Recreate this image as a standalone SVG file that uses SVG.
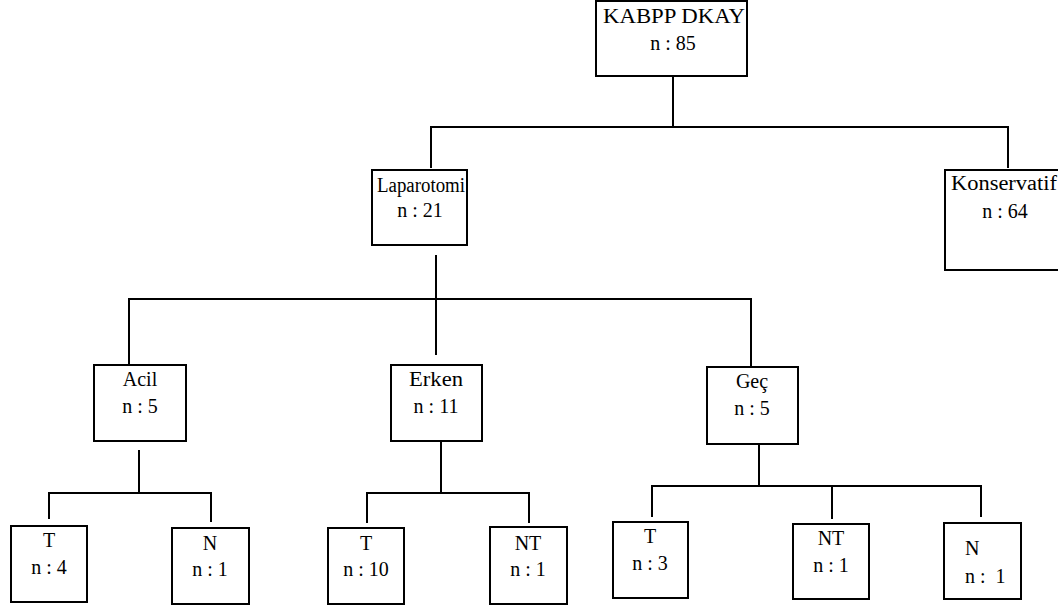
<svg xmlns="http://www.w3.org/2000/svg" width="1058" height="606" viewBox="0 0 1058 606">
<style>
.box{fill:#fff;stroke:#000;stroke-width:2}
.ln{fill:none;stroke:#000;stroke-width:2}
text{font-family:"Liberation Serif","Times New Roman",serif;font-size:20px;fill:#000;text-anchor:middle}
</style>
<rect width="1058" height="606" fill="#fff"/>
<g id="connectors">
<path class="ln" d="M673 76V127M431 168V127H1008V168"/>
<path class="ln" d="M436 255V355M129 365V299H751V367"/>
<path class="ln" d="M139 450V493M49 519V493H211V522"/>
<path class="ln" d="M441 441V493M367 523V493H529V523"/>
<path class="ln" d="M759 440V486M652 517V486H981V517M832 486V519"/>
</g>
<g id="n-root"><rect class="box" x="596" y="1" width="151" height="75"/><text x="674" y="23" textLength="142" lengthAdjust="spacingAndGlyphs">KABPP DKAY</text><text x="673" y="50">n : 85</text></g>
<g id="n-laparotomi"><rect class="box" x="372" y="170" width="95" height="75"/><text x="421" y="192" textLength="88" lengthAdjust="spacingAndGlyphs">Laparotomi</text><text x="420" y="217">n : 21</text></g>
<g id="n-konservatif"><rect class="box" x="945" y="170" width="120" height="100"/><text x="1004" y="190" textLength="106" lengthAdjust="spacingAndGlyphs">Konservatif</text><text x="1005" y="218">n : 64</text></g>
<g id="n-acil"><rect class="box" x="94" y="365" width="92" height="76"/><text x="140" y="386">Acil</text><text x="140" y="413">n : 5</text></g>
<g id="n-erken"><rect class="box" x="391" y="365" width="91" height="76"/><text x="436" y="386" textLength="54" lengthAdjust="spacingAndGlyphs">Erken</text><text x="436" y="413">n : 11</text></g>
<g id="n-gec"><rect class="box" x="707" y="367" width="91" height="77"/><text x="752" y="388">Geç</text><text x="752" y="415">n : 5</text></g>
<g id="n-acil-t"><rect class="box" x="11" y="526" width="76" height="76"/><text x="49" y="547">T</text><text x="49" y="574">n : 4</text></g>
<g id="n-acil-n"><rect class="box" x="172" y="528" width="77" height="76"/><text x="210" y="550">N</text><text x="210" y="576">n : 1</text></g>
<g id="n-erken-t"><rect class="box" x="328" y="528" width="76" height="76"/><text x="366" y="550">T</text><text x="366" y="576">n : 10</text></g>
<g id="n-erken-nt"><rect class="box" x="490" y="527" width="77" height="77"/><text x="528" y="550">NT</text><text x="528" y="576">n : 1</text></g>
<g id="n-gec-t"><rect class="box" x="613" y="522" width="75" height="76"/><text x="650" y="543">T</text><text x="650" y="570">n : 3</text></g>
<g id="n-gec-nt"><rect class="box" x="793" y="524" width="76" height="75"/><text x="831" y="545">NT</text><text x="831" y="572">n : 1</text></g>
<g id="n-gec-n"><rect class="box" x="944" y="523" width="77" height="76"/><text x="965" y="555" style="text-anchor:start">N</text><text x="965" y="583" style="text-anchor:start;white-space:pre" xml:space="preserve">n :  1</text></g>
</svg>
